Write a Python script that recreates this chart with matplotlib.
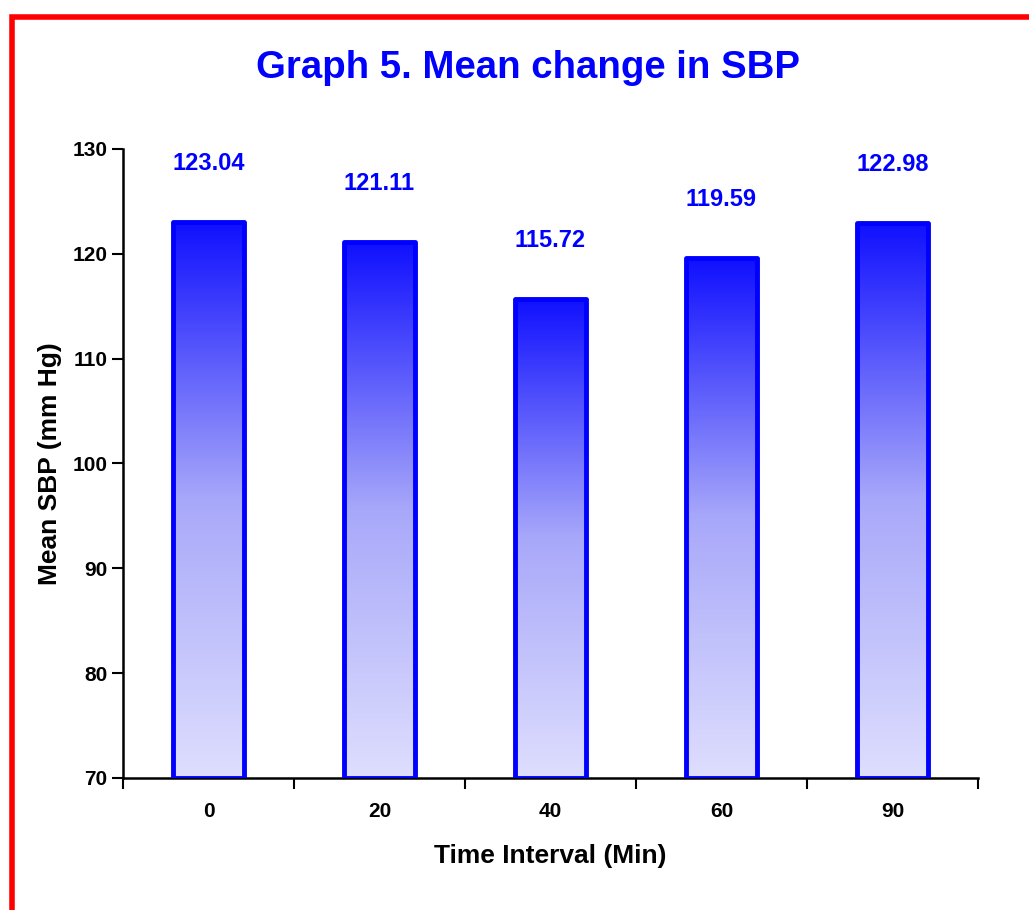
# Mean SBP over time, bar chart with gradient-filled bars

import numpy as np
import matplotlib.pyplot as plt
from matplotlib.colors import LinearSegmentedColormap
from matplotlib.patches import Rectangle

plt.rcParams['font.family'] = ['Liberation Sans', 'DejaVu Sans']

intervals = ["0", "20", "40", "60", "90"]
mean_sbp = [123.04, 121.11, 115.72, 119.59, 122.98]
y_ticks = [70, 80, 90, 100, 110, 120, 130]

fig = plt.figure(figsize=(10.29, 9.10), dpi=100)
ax = fig.add_axes([0.1195, 0.1451, 0.8309, 0.6912])

# red frame round the whole chart (only top and left edges fall inside the image)
fig.patches.append(Rectangle((0.0117, -0.05), 1.2, 1.0313, transform=fig.transFigure,
                             fill=False, edgecolor='#ff0000', linewidth=4, zorder=0))

cmap = LinearSegmentedColormap.from_list("blues", ["#dedefe", "#a8a8fa", "#1010ff"])
grad = np.linspace(0, 1, 256).reshape(-1, 1)

x = np.arange(len(intervals))
width = 0.42
ymin = 70
bars = ax.bar(x, np.array(mean_sbp) - ymin, width, bottom=ymin, color='none',
              edgecolor='#0000ff', linewidth=3.5, zorder=3, joinstyle='round')

for bar, val in zip(bars, mean_sbp):
    x0 = bar.get_x()
    im = ax.imshow(grad, cmap=cmap, origin='lower', aspect='auto',
                   extent=(x0, x0 + width, ymin, val), zorder=2)
    im.set_clip_path(bar)
    ax.annotate(f"{val:.2f}", (bar.get_x() + width / 2, val), xytext=(0, 42),
                textcoords='offset points', ha='center', va='center',
                color='#0000ff', fontsize=17, fontweight='bold')

ax.set_xlim(-0.5, len(intervals) - 0.5)
ax.set_ylim(70, 130)
ax.set_yticks(y_ticks)
ax.set_yticklabels([str(t) for t in y_ticks], fontsize=15, fontweight='bold')

# ticks sit between categories, labels centred under bars
ax.set_xticks(np.arange(-0.5, len(intervals), 1.0))
ax.set_xticklabels([])
ax.set_xticks(x, minor=True)
ax.set_xticklabels(intervals, minor=True, fontsize=15, fontweight='bold')
ax.tick_params(axis='x', which='minor', length=0, pad=17)
ax.tick_params(axis='x', which='major', direction='out', length=8, width=1.5)
ax.tick_params(axis='y', direction='out', length=8, width=1.5, pad=3)

for s in ['top', 'right']:
    ax.spines[s].set_visible(False)
for s in ['left', 'bottom']:
    ax.spines[s].set_linewidth(1.8)

ax.set_xlabel("Time Interval (Min)", fontsize=19, fontweight='bold', labelpad=17)
ax.set_ylabel("Mean SBP (mm Hg)", fontsize=19, fontweight='bold', labelpad=8)

fig.text(0.513, 0.925, "Graph 5. Mean change in SBP", ha='center', va='center',
         color='#0000ff', fontsize=27.6, fontweight='bold')

fig.savefig("out.png", dpi=100)
